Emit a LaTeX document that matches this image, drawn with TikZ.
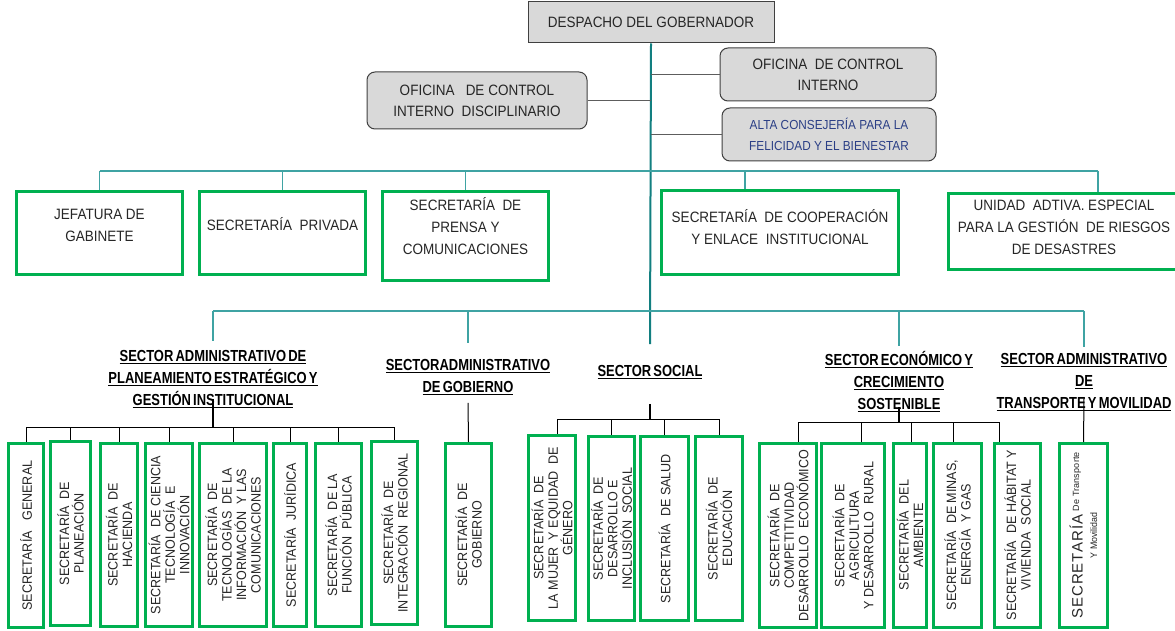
\documentclass[tikz,border=0pt]{standalone}
\usepackage{fontspec}
\setmainfont{Liberation Sans}[FakeStretch=0.9]
\newfontfamily\vfont[FakeStretch=0.93]{Liberation Sans}
\newfontfamily\hdrfont[FakeStretch=0.81,WordSpace=0.6]{Liberation Sans}
\newfontfamily\spacedfont[LetterSpace=7]{Liberation Sans}
\newfontfamily\smallspaced[LetterSpace=2]{Liberation Sans}
\newcommand\hdrul[1]{\setbox0\hbox{#1}\rlap{\rule[-2.2pt]{\wd0}{1.1pt}}\box0}
\newcommand\twosp{\ \ }
\definecolor{tealA}{HTML}{127F80}
\definecolor{tealB}{HTML}{3FA3A3}
\definecolor{gbord}{HTML}{404040}
\definecolor{gfill}{HTML}{D9D9D9}
\definecolor{grn}{HTML}{00B050}
\definecolor{txt}{HTML}{262626}
\definecolor{altab}{HTML}{2B3F86}
\begin{document}
\begin{tikzpicture}[x=1pt,y=-1pt,
  graybox/.style={draw=gbord, line width=1pt, fill=gfill, inner sep=2pt, align=center, font=\fontsize{15}{21}\selectfont, text=txt},
  roundbox/.style={graybox, rounded corners=8pt},
  topbox/.style={draw=grn, line width=3pt, fill=white, align=center, font=\fontsize{15}{22}\selectfont, text=txt, inner sep=2pt},
  vbox/.style={draw=grn, line width=3pt, fill=white, align=center, rotate=90, font=\vfont\fontsize{13.5}{14.5}\selectfont, text=txt, inner sep=1pt},
  hdr/.style={align=center, font=\hdrfont\bfseries\fontsize{16}{22}\selectfont, text=black, inner sep=0pt},
  trunkline/.style={draw=tealA, line width=2pt},
  branch/.style={draw=tealB, line width=1.5pt},
  gline/.style={draw=gbord!85, line width=1pt},
  bkline/.style={draw=black, line width=1pt},
  bkthick/.style={draw=black, line width=2pt}]
\fill[white] (0,0) rectangle (1175,631);
\useasboundingbox (0,0) rectangle (1175,631);

% top
\node[graybox, minimum width=246pt, minimum height=41pt] (desp) at (651,22.5) {DESPACHO DEL GOBERNADOR};
\node[roundbox, minimum width=220pt, minimum height=57pt] (ocid) at (477,100.5) {OFICINA\ \ \ DE CONTROL\\INTERNO\twosp DISCIPLINARIO};
\node[roundbox, minimum width=216pt, minimum height=53pt] (oci) at (828,74.5) {OFICINA\twosp DE CONTROL\\INTERNO};
\node[roundbox, minimum width=214pt, minimum height=53pt, text=altab, font=\fontsize{13.1}{21}\selectfont] (alta) at (829,134.5) {ALTA CONSEJERÍA PARA LA\\FELICIDAD Y EL BIENESTAR};

% row 1
\node[topbox, minimum width=166pt, minimum height=83pt, text depth=16pt] (jef) at (99.5,233) {JEFATURA DE\\GABINETE};
\node[topbox, minimum width=166pt, minimum height=83pt, text depth=18pt] (priv) at (282.5,233) {SECRETARÍA\twosp PRIVADA};
\node[topbox, minimum width=166pt, minimum height=89pt, text depth=20pt] (pren) at (465.5,236) {SECRETARÍA\twosp DE\\PRENSA Y\\COMUNICACIONES};
\node[topbox, minimum width=237pt, minimum height=84pt, text depth=11pt] (coop) at (780,232.5) {SECRETARÍA\twosp DE COOPERACIÓN\\Y ENLACE\twosp INSTITUCIONAL};
\node[topbox, minimum width=232pt, minimum height=76pt, text depth=9pt] (uni) at (1064,231.5) {UNIDAD\twosp ADTIVA. ESPECIAL\\PARA LA GESTIÓN\twosp DE RIESGOS\\DE DESASTRES};

% sector headers
\node[hdr] (h1) at (213,379) {\hdrul{SECTOR ADMINISTRATIVO DE}\\\hdrul{PLANEAMIENTO ESTRATÉGICO Y}\\\hdrul{GESTIÓN INSTITUCIONAL}};
\node[hdr] (h2) at (468,377) {\hdrul{SECTORADMINISTRATIVO}\\\hdrul{DE GOBIERNO}};
\node[hdr] (h3) at (650,372) {\hdrul{SECTOR SOCIAL}};
\node[hdr] (h4) at (899,382) {\hdrul{SECTOR ECONÓMICO Y}\\\hdrul{CRECIMIENTO}\\\hdrul{SOSTENIBLE}};
\node[hdr] (h5) at (1084,382) {\hdrul{SECTOR ADMINISTRATIVO}\\\hdrul{DE}\\\hdrul{TRANSPORTE Y MOVILIDAD}};

% bottom boxes
\node[vbox, minimum width=184pt, minimum height=35pt] (b1) at (26,535.5) {SECRETARÍA\ \ \ GENERAL};
\node[vbox, minimum width=184pt, minimum height=40pt] (b2) at (70.5,533.5) {SECRETARÍA\twosp DE\\PLANEACIÓN};
\node[vbox, minimum width=183pt, minimum height=37pt] (b3) at (119,535) {SECRETARÍA\twosp DE\\HACIENDA};
\node[vbox, minimum width=183pt, minimum height=47pt] (b4) at (169,535) {SECRETARÍA\twosp DE CIENCIA\\TECNOLOGÍA\twosp E\\INNOVACIÓN};
\node[vbox, minimum width=183pt, minimum height=67pt] (b5) at (233,535) {SECRETARÍA\twosp DE\\TECNOLOGÍAS\twosp DE LA\\INFORMACIÓN\twosp Y LAS\\COMUNICACIONES};
\node[vbox, minimum width=183pt, minimum height=33pt] (b6) at (290,535) {SECRETARÍA\twosp JURÍDICA};
\node[vbox, minimum width=183pt, minimum height=46pt] (b7) at (338.5,535) {SECRETARÍA\twosp DE LA\\FUNCIÓN\twosp PÚBLICA};
\node[vbox, minimum width=183pt, minimum height=46pt] (b8) at (394.5,533) {SECRETARÍA\twosp DE\\INTEGRACIÓN\twosp REGIONAL};
\node[vbox, minimum width=183pt, minimum height=46pt] (b9) at (468.5,535) {SECRETARÍA\twosp DE\\GOBIERNO};
\node[vbox, minimum width=185pt, minimum height=47pt] (b10) at (552,528) {SECRETARÍA\twosp DE\\LA MUJER\twosp Y EQUIDAD\twosp DE\\GÉNERO};
\node[vbox, minimum width=184pt, minimum height=46pt] (b11) at (611.5,528.5) {SECRETARÍA\twosp DE\\DESARROLLO E\\INCLUSIÓN\twosp SOCIAL};
\node[vbox, minimum width=184pt, minimum height=48pt] (b12) at (664.5,528.5) {SECRETARÍA\twosp DE SALUD};
\node[vbox, minimum width=184pt, minimum height=47pt] (b13) at (719,528.5) {SECRETARÍA\twosp DE\\EDUCACIÓN};
\node[vbox, minimum width=184pt, minimum height=57pt] (b14) at (788,535.5) {SECRETARÍA\twosp DE\\COMPETITIVIDAD\\DESARROLLO\twosp ECONÓMICO};
\node[vbox, minimum width=184pt, minimum height=63pt] (b15) at (853,535.5) {SECRETARÍA\twosp DE\\AGRICULTURA\\Y DESARROLLO\twosp RURAL};
\node[vbox, minimum width=184pt, minimum height=33pt] (b16) at (910,535) {SECRETARÍA\twosp DEL\\AMBIENTE};
\node[vbox, minimum width=184pt, minimum height=48pt] (b17) at (957.5,535) {SECRETARÍA\twosp DE MINAS,\\ENERGÍA\twosp Y GAS};
\node[vbox, minimum width=184pt, minimum height=46pt] (b18) at (1017.5,535) {SECRETARÍA\twosp DE HÁBITAT Y\\VIVIENDA\twosp SOCIAL};
\node[vbox, minimum width=184pt, minimum height=48pt] (b19) at (1083.5,535.5) {{\spacedfont\fontsize{15}{16}\selectfont SECRETARÍA} \raisebox{3.5pt}{\smallspaced\fontsize{9}{11}\selectfont De Transporte}\\[0pt]{\fontsize{9.5}{11}\selectfont Y Movilidad}};

% trunk and gray connectors
\draw[trunkline] (desp.south) -- ([yshift=21pt]h3.north);
\draw[gline] (ocid.east) -- (ocid.east -| desp.south);
\draw[gline] (oci.west -| desp.south) -- (oci.west);
\draw[gline] (alta.west -| desp.south) -- (alta.west);

% first teal bar
\coordinate (t1) at (650,171);
\coordinate (cd) at ([xshift=-35pt]coop.north);
\coordinate (ud) at ([xshift=34pt]uni.north);
\draw[branch] (t1 -| jef.north) -- (t1 -| ud);
\foreach \nm in {jef,priv,pren} \draw[branch] (t1 -| \nm.north) -- (\nm.north);
\draw[branch] (t1 -| cd) -- (cd);
\draw[branch] (t1 -| ud) -- (ud);

% second teal bar
\coordinate (t2) at (650,311);
\draw[branch] (t2 -| h1.north) -- (t2 -| h5.north);
\draw[branch] (t2 -| h1.north) -- ([yshift=9pt]h1.north);
\draw[branch] (t2 -| h2.north) -- ([yshift=16pt]h2.north);
\draw[branch] (t2 -| h4.north) -- ([yshift=6pt]h4.north);
\draw[branch] (t2 -| h5.north) -- ([yshift=6pt]h5.north);

% group 1
\coordinate (g1) at (213,427);
\draw[bkthick] ([yshift=9pt]h1.south) -- (g1);
\draw[bkline] (g1 -| b1.east) -- (g1 -| b8.east);
\foreach \b in {b1,b2,b3,b4,b5,b6,b7,b8} \draw[bkline] (g1 -| \b.east) -- (\b.east);

% group 2
\draw[bkline] ([yshift=-8pt]h2.south) -- (b9.east);

% group 3
\coordinate (g3) at (650,419);
\coordinate (d10) at ([xshift=5pt]b10.east);
\draw[bkthick] ([yshift=-25pt]h3.south) -- (g3);
\draw[bkline] (g3 -| d10) -- (g3 -| b13.east);
\draw[bkline] (g3 -| d10) -- (d10);
\foreach \b in {b11,b12,b13} \draw[bkline] (g3 -| \b.east) -- (\b.east);

% group 4
\coordinate (g4) at (899,422);
\coordinate (d14) at ([xshift=10pt]b14.east);
\coordinate (d15) at ([xshift=8pt]b15.east);
\coordinate (d16) at ([xshift=1pt]b16.east);
\coordinate (d17) at ([xshift=-4.5pt]b17.east);
\coordinate (d18) at ([xshift=-18.5pt]b18.east);
\draw[bkthick] ([yshift=5pt]h4.south) -- (g4);
\draw[bkline] (g4 -| d14) -- (g4 -| d18);
\foreach \d in {d14,d15,d16,d17,d18} \draw[bkline] (g4 -| \d) -- (\d);

% group 5
\draw[bkline] ([yshift=13pt]h5.south) -- (b19.east);
\end{tikzpicture}
\end{document}
